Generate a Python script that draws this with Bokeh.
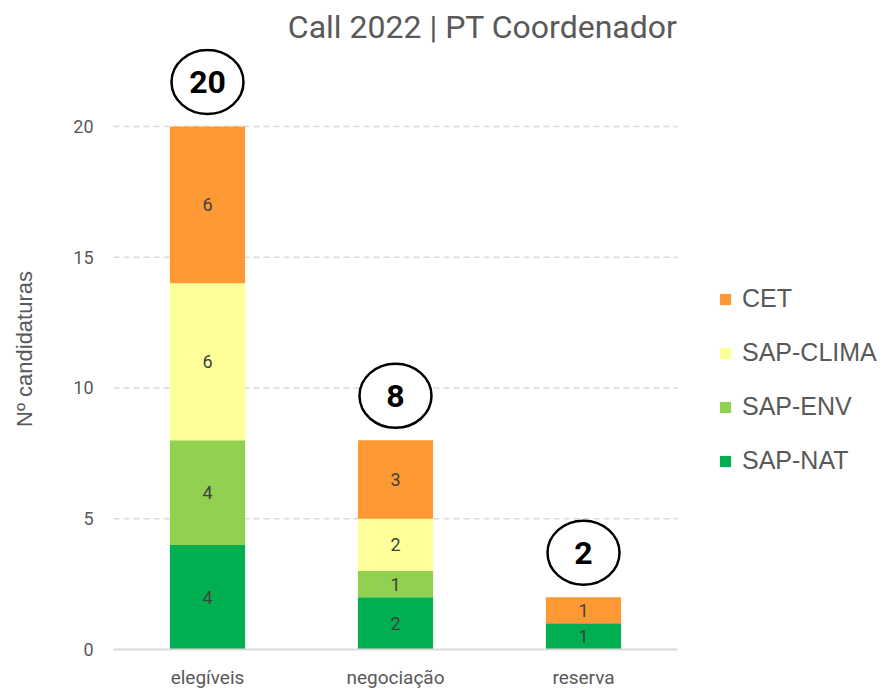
from bokeh.plotting import figure
from bokeh.models import (ColumnDataSource, Range1d, Legend, LegendItem,
                          FixedTicker, Title)
from bokeh.core.properties import value
from bokeh.embed import file_html
from bokeh.resources import INLINE
import numpy as np

categories = ["elegíveis", "negociação", "reserva"]
series_names = ["SAP-NAT", "SAP-ENV", "SAP-CLIMA", "CET"]
sap_nat = [4, 2, 1]
sap_env = [4, 1, 0]
sap_clima = [6, 2, 0]
cet = [6, 3, 1]
colors = ["#00B050", "#92D050", "#FFFF99", "#FF9933"]
y_ticks = [0, 5, 10, 15, 20]

series = [sap_nat, sap_env, sap_clima, cet]
totals = [sum(v) for v in zip(*series)]
xpos = list(np.arange(len(categories)) + 0.5)
ncat = len(categories)

src = ColumnDataSource(dict(x=xpos, **{n: s for n, s in zip(series_names, series)}))

GRAY = "#595959"
TICKFONT = "Roboto"
FW = 766

p = figure(x_range=Range1d(0, FW / 188.0), y_range=Range1d(0, 22.98),
           frame_width=FW, frame_height=601, output_backend="svg", toolbar_location=None,
           min_border_left=113, min_border_right=0, min_border_top=48, min_border_bottom=38)
p.outline_line_color = None

# dashed gridlines, limited to the category area
gt = y_ticks[1:]
p.segment(x0=[0] * len(gt), x1=[ncat] * len(gt), y0=gt, y1=gt,
          line_color="#d9d9d9", line_width=1.5, line_dash="6 4")

rs = p.vbar_stack(series_names, x="x", width=0.4, color=colors, source=src, line_color=None)

# segment labels
lx, ly, lt = [], [], []
base = np.zeros(ncat)
for s in series:
    arr = np.array(s, dtype=float)
    for i, v in enumerate(arr):
        if v > 0:
            lx.append(xpos[i]); ly.append(base[i] + v / 2); lt.append(str(int(v)))
    base += arr
p.text(x=lx, y=ly, text=lt, text_align="center", text_baseline="middle",
       text_font_size="18px", text_color="#404040", text_font=value(TICKFONT))

# total circles
cy = [t + 1.7 for t in totals]
p.ellipse(x=xpos, y=cy, width=72, height=64, width_units="screen", height_units="screen",
          fill_color="white", line_color="black", line_width=2.5)
p.text(x=xpos, y=cy, text=[str(t) for t in totals], text_align="center", text_baseline="middle",
       text_font_size="32px", text_font_style="bold", text_color="black", text_font=value(TICKFONT))

# axes
p.yaxis.ticker = FixedTicker(ticks=y_ticks)
p.yaxis.axis_line_color = None
p.yaxis.major_tick_line_color = None
p.yaxis.minor_tick_line_color = None
p.yaxis.major_tick_out = 0
p.yaxis.major_label_text_font_size = "18px"
p.yaxis.major_label_text_color = GRAY
p.yaxis.major_label_text_font = TICKFONT
p.yaxis.major_label_standoff = 20
p.yaxis.axis_label = "Nº candidaturas"
p.yaxis.axis_label_text_font_size = "22px"
p.yaxis.axis_label_text_font_style = "normal"
p.yaxis.axis_label_text_color = GRAY
p.yaxis.axis_label_text_font = "Liberation Sans"
p.yaxis.axis_label_standoff = 33

p.xaxis.ticker = FixedTicker(ticks=xpos)
p.xaxis.major_label_overrides = {float(x): c for x, c in zip(xpos, categories)}
p.xaxis.bounds = (0, ncat)
p.xaxis.axis_line_color = "#d9d9d9"
p.xaxis.axis_line_width = 2
p.xaxis.major_tick_line_color = None
p.xaxis.minor_tick_line_color = None
p.xaxis.major_tick_out = 0
p.xaxis.major_tick_in = 0
p.xaxis.major_label_text_font_size = "19px"
p.xaxis.major_label_text_color = GRAY
p.xaxis.major_label_text_font = TICKFONT
p.xaxis.major_label_standoff = 16

p.xgrid.grid_line_color = None
p.ygrid.grid_line_color = None

p.title = Title(text="Call 2022 | PT Coordenador", align="right", text_font_size="32px",
                text_font_style="normal", text_color=GRAY, text_font="Roboto", standoff=5,
                offset=FW - 188.0 * ncat)

items = [LegendItem(label=n, renderers=[r]) for n, r in zip(series_names, rs)][::-1]
legend = Legend(items=items, location=(605, 174), glyph_width=14, glyph_height=14,
                label_text_font_size="25px", label_text_color=GRAY, label_text_font="Liberation Sans",
                spacing=25, label_standoff=10, border_line_color=None, background_fill_alpha=0,
                label_height=26, margin=0, padding=0)
p.add_layout(legend, "center")

open("out.html", "w").write(file_html(p, INLINE))
